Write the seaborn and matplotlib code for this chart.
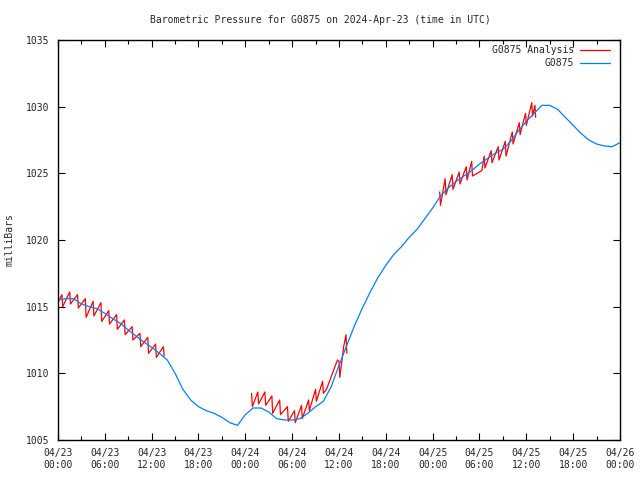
import numpy as np
import pandas as pd
import seaborn as sns
import matplotlib
matplotlib.use("Agg")
import matplotlib.pyplot as plt
import matplotlib.dates as mdates

# station data, hours after 2024-04-23 00:00 UTC
obs_hours = list(range(0, 73))
obs_mb = [1015.5, 1015.6, 1015.6, 1015.2, 1015.0, 1014.85, 1014.5, 1014.1, 1013.75, 1013.25,
          1012.8, 1012.35, 1011.95, 1011.5, 1011.0, 1010.0, 1008.8, 1008.0, 1007.5, 1007.2,
          1007.0, 1006.7, 1006.3, 1006.1, 1006.9, 1007.4, 1007.4, 1007.1, 1006.6, 1006.5,
          1006.5, 1006.6, 1007.0, 1007.5, 1007.9, 1009.0, 1010.6, 1012.1, 1013.6, 1014.9,
          1016.1, 1017.2, 1018.1, 1018.9, 1019.5, 1020.2, 1020.8, 1021.6, 1022.4, 1023.3,
          1023.9, 1024.4, 1024.8, 1025.2, 1025.7, 1026.1, 1026.5, 1026.8, 1027.4, 1028.2,
          1028.9, 1029.5, 1030.1, 1030.1, 1029.8, 1029.2, 1028.6, 1028.0, 1027.5, 1027.2,
          1027.05, 1027.0, 1027.3]

# analysis, three runs
ana1_hours = [0.0, 0.5, 0.6, 1.5, 1.6, 2.5, 2.6, 3.5, 3.6, 4.5, 4.6, 5.5, 5.6, 6.5, 6.6,
              7.5, 7.6, 8.5, 8.6, 9.5, 9.6, 10.5, 10.6, 11.5, 11.6, 12.5, 12.6, 13.5, 13.6]
ana1_mb = [1015.3, 1015.9, 1015.0, 1016.1, 1015.2, 1015.9, 1014.9, 1015.6, 1014.2, 1015.4,
           1014.3, 1015.3, 1013.9, 1014.7, 1013.7, 1014.4, 1013.3, 1014.0, 1012.9, 1013.5,
           1012.5, 1013.0, 1012.0, 1012.7, 1011.5, 1012.2, 1011.2, 1012.0, 1011.3]

ana2_hours = [24.8, 24.9, 25.6, 25.7, 26.5, 26.6, 27.4, 27.5, 28.4, 28.5, 29.4, 29.5, 30.3,
              30.4, 31.2, 31.3, 32.1, 32.2, 33.0, 33.1, 33.9, 34.0, 34.4, 35.8, 36.0, 36.1,
              36.6, 36.9, 37.0]
ana2_mb = [1008.5, 1007.5, 1008.6, 1007.7, 1008.6, 1007.6, 1008.3, 1007.0, 1008.0, 1006.9,
           1007.5, 1006.4, 1007.2, 1006.3, 1007.6, 1006.6, 1008.0, 1007.2, 1008.8, 1007.9,
           1009.4, 1008.5, 1008.8, 1011.0, 1010.9, 1009.7, 1012.0, 1012.9, 1011.5]

ana3_hours = [48.9, 49.0, 49.6, 49.7, 50.5, 50.6, 51.4, 51.5, 52.3, 52.4, 53.0, 53.1, 54.3,
              54.6, 54.7, 55.5, 55.6, 56.4, 56.5, 57.3, 57.4, 58.2, 58.3, 59.1, 59.2, 59.9,
              60.0, 60.7, 60.8, 61.1, 61.2]
ana3_mb = [1023.6, 1022.6, 1024.6, 1023.4, 1024.9, 1023.8, 1025.1, 1024.2, 1025.5, 1024.5,
           1025.9, 1024.8, 1025.2, 1026.3, 1025.4, 1026.7, 1025.8, 1027.0, 1026.0, 1027.4,
           1026.3, 1028.1, 1027.2, 1028.8, 1027.9, 1029.5, 1028.6, 1030.3, 1029.3, 1030.1,
           1029.2]

start = pd.Timestamp("2024-04-23 00:00")
obs = pd.DataFrame({"time": start + pd.to_timedelta(obs_hours, unit="h"), "mb": obs_mb})
ana = pd.concat([
    pd.DataFrame({"time": start + pd.to_timedelta(h, unit="h"), "mb": v, "run": i})
    for i, (h, v) in enumerate([(ana1_hours, ana1_mb), (ana2_hours, ana2_mb), (ana3_hours, ana3_mb)])
])

sns.set_style("ticks")
plt.rcParams["font.family"] = ["DejaVu Sans Mono"]
plt.rcParams["font.size"] = 7

red = "#ff0000"
blue = "#0080ff"

fig = plt.figure(figsize=(6.4, 4.8), dpi=100)
ax = fig.add_axes([58 / 640, 40 / 480, 562 / 640, 400 / 480])

sns.lineplot(data=ana, x="time", y="mb", units="run", estimator=None, color=red,
             linewidth=0.9, ax=ax)
sns.lineplot(data=obs, x="time", y="mb", color=blue, linewidth=0.9, ax=ax)

ax.set_xlim(start, start + pd.Timedelta(hours=72))
ax.set_ylim(1005, 1035)
ax.set_yticks(range(1005, 1036, 5))
ax.xaxis.set_major_locator(mdates.HourLocator(byhour=[0, 6, 12, 18]))
ax.xaxis.set_minor_locator(mdates.HourLocator(byhour=[3, 9, 15, 21]))
ax.xaxis.set_major_formatter(mdates.DateFormatter("%m/%d\n%H:%M"))
ax.tick_params(which="both", direction="in", top=True, right=True, color="black",
               labelsize=7, pad=6)
ax.tick_params(which="major", length=5, width=0.8)
ax.tick_params(which="minor", length=3, width=0.8)
for s in ax.spines.values():
    s.set_linewidth(1)
    s.set_color("black")
ax.set_xlabel("")
ax.set_ylabel("")

fig.text(0.5, 1 - 20 / 480, "Barometric Pressure for G0875 on 2024-Apr-23 (time in UTC)",
         ha="center", va="center", fontsize=7)
fig.text(10 / 640, 0.5, "milliBars", rotation=90, ha="center", va="center", fontsize=7)

# gnuplot-style key, text right-aligned with line sample after it
ax.text(0.918, 0.975, "G0875 Analysis", transform=ax.transAxes, ha="right", va="center")
ax.text(0.918, 0.942, "G0875", transform=ax.transAxes, ha="right", va="center")
ax.plot([0.928, 0.982], [0.975, 0.975], transform=ax.transAxes, color=red, lw=0.9)
ax.plot([0.928, 0.982], [0.942, 0.942], transform=ax.transAxes, color=blue, lw=0.9)

fig.savefig("out.png", dpi=100)
